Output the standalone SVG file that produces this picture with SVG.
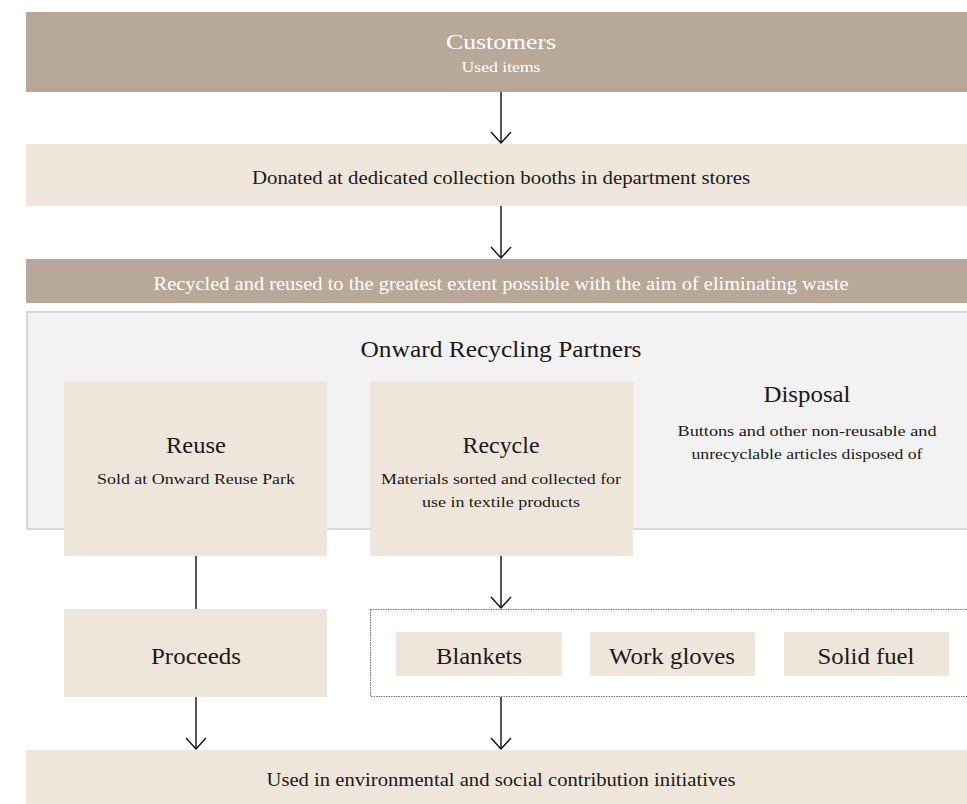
<svg xmlns="http://www.w3.org/2000/svg" width="967" height="804" viewBox="0 0 967 804">
<defs>
<style>
.dark{fill:#b8a898}
.light{fill:#efe6db}
.t{font-family:'Liberation Serif','Times New Roman',Times,'Noto Serif','DejaVu Serif',serif;text-anchor:middle;fill:#1a1a1a}
.w{fill:#ffffff}
.big{font-size:23px}
.mid{font-size:18px}
.sm{font-size:15.5px}
.conn{stroke:#111;stroke-width:1.4;fill:none}
</style>
<marker id="arr" viewBox="-12 -11 13 22" refX="0" refY="0" markerWidth="13" markerHeight="22" markerUnits="userSpaceOnUse" orient="auto">
<path d="M-11,-10 L0,0 L-11,10" fill="none" stroke="#111" stroke-width="1.4"/>
</marker>
</defs>
<rect width="967" height="804" fill="#ffffff"/>

<g id="customers">
<rect class="dark" x="26" y="12" width="945" height="80"/>
<text class="t w" font-family="Liberation Serif, serif" x="501" y="49" font-size="22" textLength="110" lengthAdjust="spacingAndGlyphs">Customers</text>
<text class="t w" font-family="Liberation Serif, serif" x="501" y="72" font-size="15" textLength="79" lengthAdjust="spacingAndGlyphs">Used items</text>
</g>

<g id="donated">
<rect class="light" x="26" y="144" width="945" height="62"/>
<text class="t mid" x="501" y="184" textLength="498" lengthAdjust="spacingAndGlyphs">Donated at dedicated collection booths in department stores</text>
</g>

<g id="recycled">
<rect class="dark" x="26" y="259" width="945" height="44"/>
<text class="t mid w" x="501" y="290" textLength="695" lengthAdjust="spacingAndGlyphs">Recycled and reused to the greatest extent possible with the aim of eliminating waste</text>
</g>

<g id="partners">
<rect x="27" y="312" width="945" height="217" fill="#f1f2f1" stroke="#d8d9de" stroke-width="2"/>
<text class="t" x="501" y="357" font-size="24" textLength="281" lengthAdjust="spacingAndGlyphs">Onward Recycling Partners</text>
</g>

<g id="reuse">
<rect class="light" x="64" y="381" width="263" height="175"/>
<text class="t big" x="196" y="453" textLength="60" lengthAdjust="spacingAndGlyphs">Reuse</text>
<text class="t sm" x="196" y="484" textLength="198" lengthAdjust="spacingAndGlyphs">Sold at Onward Reuse Park</text>
</g>

<g id="recycle">
<rect class="light" x="370" y="381" width="263" height="175"/>
<text class="t big" x="501" y="453" textLength="77" lengthAdjust="spacingAndGlyphs">Recycle</text>
<text class="t sm" x="501" y="484" textLength="240" lengthAdjust="spacingAndGlyphs">Materials sorted and collected for</text>
<text class="t sm" x="501" y="507" textLength="158" lengthAdjust="spacingAndGlyphs">use in textile products</text>
</g>

<g id="disposal">
<text class="t big" x="807" y="402" textLength="87" lengthAdjust="spacingAndGlyphs">Disposal</text>
<text class="t sm" x="807" y="436" textLength="259" lengthAdjust="spacingAndGlyphs">Buttons and other non-reusable and</text>
<text class="t sm" x="807" y="459" textLength="231" lengthAdjust="spacingAndGlyphs">unrecyclable articles disposed of</text>
</g>

<g id="proceeds">
<rect class="light" x="64" y="609" width="263" height="88"/>
<text class="t big" x="196" y="664" textLength="90" lengthAdjust="spacingAndGlyphs">Proceeds</text>
</g>

<g id="products">
<rect x="370.5" y="609.5" width="600" height="87" fill="#ffffff" stroke="#777" stroke-width="1" stroke-dasharray="1.5,1"/>
<g id="blankets">
<rect class="light" x="396" y="632" width="166" height="44"/>
<text class="t big" x="479" y="664" textLength="86" lengthAdjust="spacingAndGlyphs">Blankets</text>
</g>
<g id="gloves">
<rect class="light" x="590" y="632" width="165" height="44"/>
<text class="t big" x="672" y="664" textLength="126" lengthAdjust="spacingAndGlyphs">Work gloves</text>
</g>
<g id="fuel">
<rect class="light" x="784" y="632" width="165" height="44"/>
<text class="t big" x="866" y="664" textLength="97" lengthAdjust="spacingAndGlyphs">Solid fuel</text>
</g>
</g>

<g id="initiatives">
<rect class="light" x="26" y="750" width="945" height="54"/>
<text class="t mid" x="501" y="786" textLength="469" lengthAdjust="spacingAndGlyphs">Used in environmental and social contribution initiatives</text>
</g>

<g id="connectors">
<line class="conn" x1="501" y1="92" x2="501" y2="143" marker-end="url(#arr)"/>
<line class="conn" x1="501" y1="206" x2="501" y2="258" marker-end="url(#arr)"/>
<line class="conn" x1="196" y1="556" x2="196" y2="609"/>
<line class="conn" x1="501" y1="556" x2="501" y2="608" marker-end="url(#arr)"/>
<line class="conn" x1="196" y1="697" x2="196" y2="749" marker-end="url(#arr)"/>
<line class="conn" x1="501" y1="697" x2="501" y2="749" marker-end="url(#arr)"/>
</g>
</svg>
